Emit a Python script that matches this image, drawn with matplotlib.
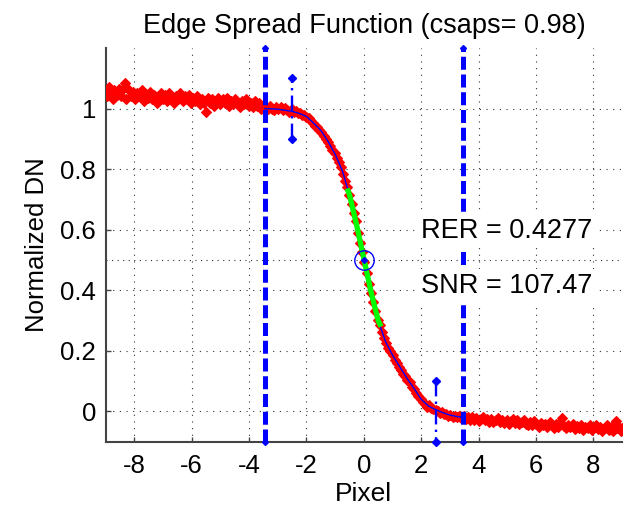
import numpy as np
import matplotlib
matplotlib.use("Agg")
import matplotlib.pyplot as plt

plt.rcParams["font.family"] = ["Liberation Sans", "DejaVu Sans"]
plt.rcParams["axes.unicode_minus"] = False

# measured edge samples (pixel offset, normalized DN)
esf_x = [
    -9.00, -8.95, -8.88, -8.82, -8.75, -8.70, -8.62, -8.55, -8.48, -8.42,
    -8.33, -8.28, -8.20, -8.12, -8.05, -7.98, -7.90, -7.83, -7.75, -7.68,
    -7.60, -7.52, -7.45, -7.38, -7.30, -7.22, -7.15, -7.08, -7.00, -6.92,
    -6.85, -6.78, -6.70, -6.62, -6.55, -6.48, -6.40, -6.32, -6.25, -6.18,
    -6.10, -6.02, -5.95, -5.88, -5.80, -5.72, -5.65, -5.58, -5.50, -5.45,
    -5.38, -5.30, -5.22, -5.15, -5.08, -5.00, -4.92, -4.85, -4.78, -4.70,
    -4.62, -4.55, -4.48, -4.40, -4.32, -4.25, -4.18, -4.10, -4.02, -3.95,
    -3.88, -3.80, -3.72, -3.65, -3.58, -3.50,
    -3.42, -3.35, -3.28, -3.20, -3.12, -3.05, -2.98, -2.90, -2.82, -2.75,
    -2.68, -2.60, -2.52, -2.45, -2.38, -2.30, -2.22, -2.15, -2.08, -2.00,
    -1.92, -1.85, -1.78, -1.70, -1.62, -1.55, -1.48, -1.40, -1.32, -1.25,
    -1.18, -1.10, -1.02, -0.95, -0.88, -0.80, -0.72, -0.65, -0.58, -0.50,
    -0.42, -0.35, -0.28, -0.20, -0.12, -0.05, 0.02, 0.10, 0.18, 0.25,
    0.32, 0.40, 0.48, 0.55, 0.62, 0.70, 0.78, 0.85, 0.92, 1.00,
    1.08, 1.15, 1.22, 1.30, 1.38, 1.45, 1.52, 1.60, 1.68, 1.75,
    1.82, 1.90, 1.98, 2.05, 2.12, 2.20, 2.28, 2.35, 2.42, 2.50,
    2.58, 2.65, 2.72, 2.80, 2.88, 2.95, 3.02, 3.10, 3.18, 3.25,
    3.32, 3.40,
    3.48, 3.55, 3.62, 3.70, 3.78, 3.85, 3.92, 4.00, 4.08, 4.15,
    4.22, 4.30, 4.38, 4.45, 4.52, 4.60, 4.68, 4.75, 4.82, 4.90,
    4.98, 5.05, 5.12, 5.20, 5.28, 5.35, 5.42, 5.50, 5.58, 5.65,
    5.72, 5.80, 5.88, 5.95, 6.02, 6.10, 6.18, 6.25, 6.32, 6.40,
    6.48, 6.55, 6.62, 6.70, 6.78, 6.85, 6.90, 6.98, 7.05, 7.12,
    7.20, 7.28, 7.35, 7.42, 7.50, 7.58, 7.65, 7.72, 7.80, 7.88,
    7.95, 8.02, 8.10, 8.18, 8.25, 8.32, 8.40, 8.48, 8.55, 8.62,
    8.70, 8.78, 8.82, 8.90, 8.95, 9.00,
]
esf_y = [
    1.060, 1.040, 1.070, 1.050, 1.030, 1.060, 1.045, 1.065, 1.040, 1.060,
    1.085, 1.030, 1.060, 1.040, 1.055, 1.030, 1.050, 1.040, 1.060, 1.025,
    1.045, 1.035, 1.055, 1.030, 1.045, 1.020, 1.040, 1.050, 1.030, 1.045,
    1.025, 1.050, 1.035, 1.020, 1.040, 1.030, 1.050, 1.025, 1.040, 1.030,
    1.045, 1.020, 1.035, 1.025, 1.040, 1.015, 1.030, 1.020, 0.990, 1.035,
    1.020, 1.030, 1.010, 1.025, 1.035, 1.015, 1.030, 1.020, 1.035, 1.010,
    1.025, 1.015, 1.030, 1.020, 1.005, 1.025, 1.015, 1.030, 1.010, 1.020,
    1.005, 1.025, 1.010, 1.020, 1.000, 1.010,
    1.005, 0.998, 1.008, 1.000, 0.995, 1.006, 0.998, 1.004, 0.994, 1.002,
    0.996, 0.990, 0.998, 0.988, 0.992, 0.984, 0.986, 0.978, 0.980, 0.972,
    0.968, 0.958, 0.954, 0.944, 0.940, 0.930, 0.922, 0.910, 0.900, 0.888,
    0.878, 0.862, 0.852, 0.838, 0.822, 0.806, 0.784, 0.762, 0.740, 0.716,
    0.686, 0.656, 0.628, 0.590, 0.556, 0.526, 0.494, 0.456, 0.420, 0.390,
    0.360, 0.330, 0.302, 0.286, 0.262, 0.242, 0.226, 0.210, 0.200, 0.186,
    0.170, 0.160, 0.146, 0.138, 0.124, 0.116, 0.104, 0.096, 0.082, 0.074,
    0.062, 0.050, 0.042, 0.030, 0.026, 0.016, 0.020, 0.010, 0.008, 0.004,
    0.000, -0.004, -0.002, -0.010, -0.008, -0.014, -0.012, -0.018, -0.014, -0.020,
    -0.016, -0.022,
    -0.015, -0.025, -0.018, -0.028, -0.020, -0.030, -0.022, -0.032, -0.025, -0.018,
    -0.030, -0.024, -0.034, -0.026, -0.036, -0.028, -0.022, -0.034, -0.028, -0.038,
    -0.030, -0.040, -0.032, -0.026, -0.038, -0.030, -0.042, -0.034, -0.028, -0.040,
    -0.046, -0.036, -0.044, -0.032, -0.042, -0.050, -0.038, -0.046, -0.040, -0.052,
    -0.036, -0.046, -0.054, -0.042, -0.050, -0.038, -0.022, -0.048, -0.056, -0.044,
    -0.052, -0.040, -0.058, -0.048, -0.054, -0.044, -0.060, -0.050, -0.056, -0.046,
    -0.062, -0.052, -0.044, -0.058, -0.050, -0.064, -0.054, -0.046, -0.060, -0.052,
    -0.066, -0.032, -0.056, -0.050, -0.064, -0.056,
]

# smoothing spline fit
fit_x = [-3.45, -3.0, -2.5, -2.25, -2.0, -1.75, -1.5, -1.25, -1.0, -0.75,
         -0.5, -0.25, 0.0, 0.25, 0.5, 0.75, 1.0, 1.25, 1.5, 1.75,
         2.0, 2.25, 2.5, 2.75, 3.0, 3.25, 3.45]
fit_y = [1.000, 0.998, 0.991, 0.984, 0.974, 0.952, 0.928, 0.892, 0.849, 0.795,
         0.715, 0.615, 0.505, 0.395, 0.300, 0.232, 0.186, 0.148, 0.110, 0.076,
         0.040, 0.018, 0.006, -0.004, -0.012, -0.017, -0.020]

# central 10-90 region
mid_x = [-0.55, -0.5, -0.25, 0.0, 0.25, 0.5, 0.56]
mid_y = [0.728, 0.715, 0.615, 0.505, 0.395, 0.300, 0.288]

edge_x = [-3.45, 3.45]
rer_x = [-2.5, 2.5]
center = (0.0, 0.5)
rer = 0.4277
snr = 107.47
csaps = 0.98

fig = plt.figure(figsize=(6.28, 5.13), dpi=100)
ax = fig.add_axes([0.1683, 0.139, 0.8221, 0.7674])

ax.plot(esf_x, esf_y, "D", color="red", markersize=4.6, markeredgewidth=0.8, zorder=3)
ax.plot(fit_x, fit_y, "-", color="blue", lw=1.0, zorder=4)
ax.plot(mid_x, mid_y, "-", color="#00ff00", lw=3.8, zorder=5)

for xe in edge_x:
    ax.plot([xe, xe], [-0.1, 1.2], color="blue", lw=3.6, ls=(0, (2.6, 0.95)),
            marker="D", markersize=3, clip_on=False, zorder=6)
ax.plot([rer_x[0], rer_x[0]], [0.9, 1.1], color="blue", lw=1.7,
        ls=(0, (6.5, 2.2, 1, 2.2)), marker="D", markersize=4, zorder=6)
ax.plot([rer_x[1], rer_x[1]], [0.1, -0.1], color="blue", lw=1.7,
        ls=(0, (6.5, 2.2, 1, 2.2)), marker="D", markersize=4, clip_on=False, zorder=6)

ax.plot([-9, 9], [0.5, 0.5], color="#333333", lw=0.8, ls=(0, (1, 4)), zorder=2)
ax.plot(*center, "o", mfc="none", mec="blue", markersize=14, mew=1.0, zorder=7)
ax.plot(*center, "D", color="blue", markersize=3, zorder=7)

box = dict(boxstyle="square,pad=0.15", fc="white", ec="none")
ax.text(1.98, 0.572, "RER = %.4f" % rer, fontsize=19.5, va="baseline", bbox=box, zorder=8)
ax.text(1.98, 0.39, "SNR = %.2f" % snr, fontsize=19.5, va="baseline", bbox=box, zorder=8)

ax.set_xlim(-9, 9)
ax.set_ylim(-0.1, 1.2)
ax.set_xticks([-8, -6, -4, -2, 0, 2, 4, 6, 8])
ax.set_yticks([0, 0.2, 0.4, 0.6, 0.8, 1])
ax.set_yticklabels(["0", "0.2", "0.4", "0.6", "0.8", "1"])
ax.grid(True, color="#333333", lw=0.8, ls=(0, (1, 5)))
ax.set_axisbelow(True)

for side in ["top", "right"]:
    ax.spines[side].set_visible(False)
for side in ["left", "bottom"]:
    ax.spines[side].set_color("#444444")
    ax.spines[side].set_linewidth(1.5)
ax.tick_params(direction="in", length=3.6, width=1, color="#444444",
               labelsize=18.5, pad=7)
ax.tick_params(axis="x", pad=9)

ax.set_title("Edge Spread Function (csaps= %.2f)" % csaps, fontsize=19.5, pad=11)
ax.set_xlabel("Pixel", fontsize=19, labelpad=3)
ax.set_ylabel("Normalized DN", fontsize=18.5, labelpad=8)

fig.savefig("out.png", dpi=100)
